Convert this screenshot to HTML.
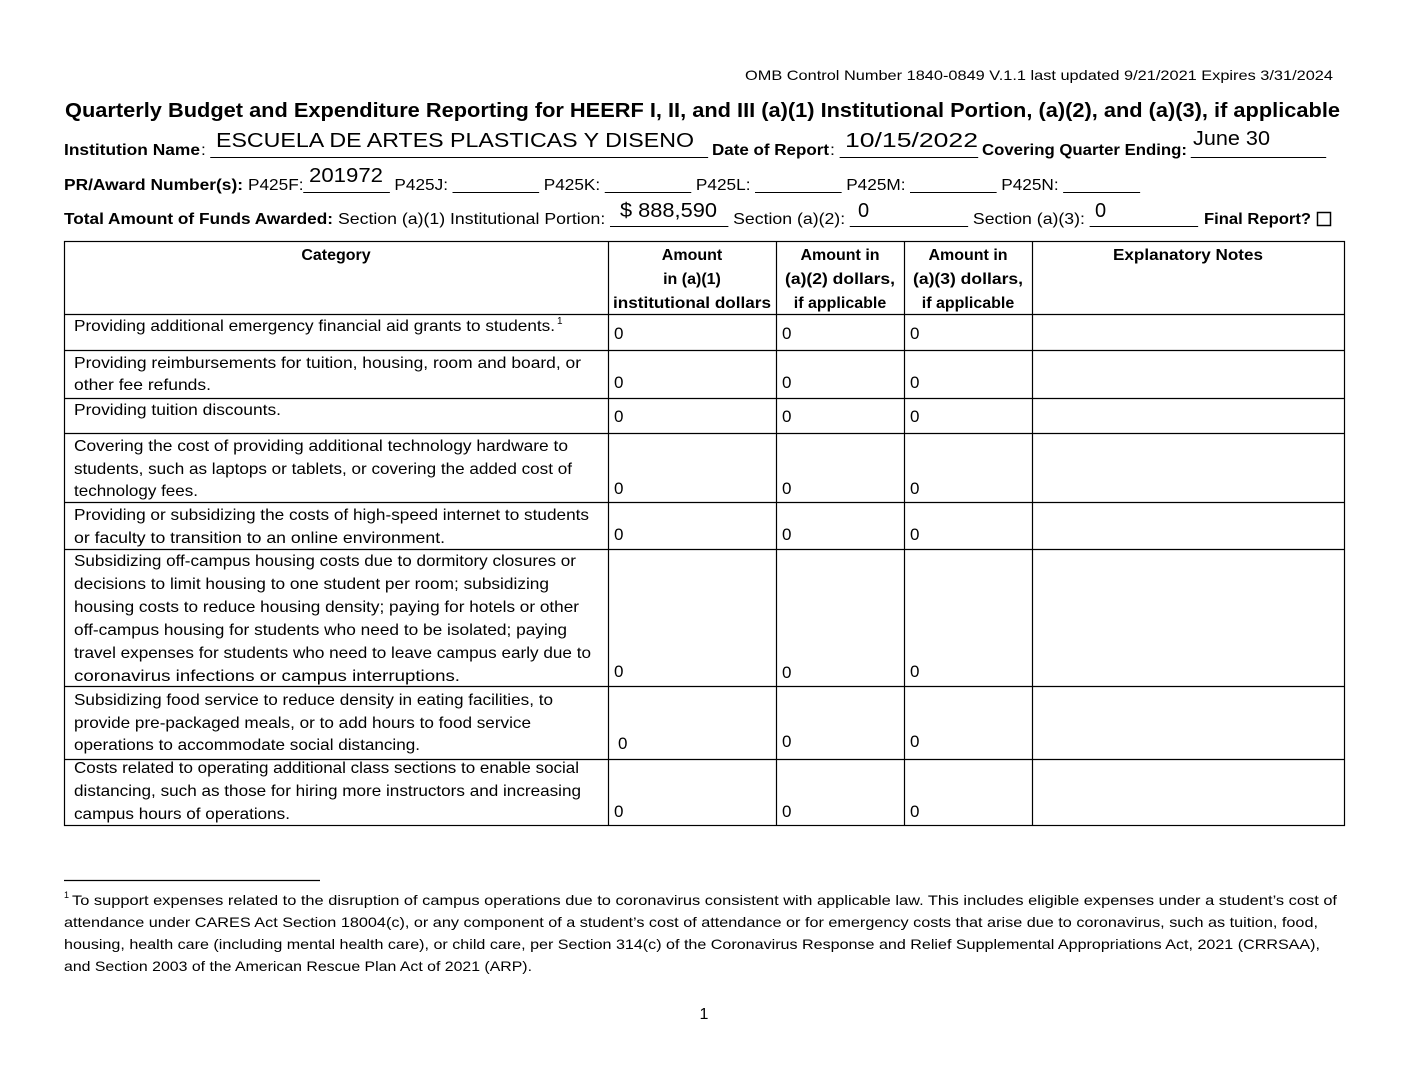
<!DOCTYPE html>
<html><head><meta charset="utf-8"><style>
html,body{margin:0;padding:0;background:#fff;}
svg{display:block;}
text{font-family:"Liberation Sans",sans-serif;fill:#000;}
.b{font-weight:bold;}
</style></head><body>
<svg width="1408" height="1088" viewBox="0 0 1408 1088" xmlns="http://www.w3.org/2000/svg">
<text x="745" y="80" font-size="14" textLength="588" lengthAdjust="spacingAndGlyphs">OMB Control Number 1840-0849 V.1.1 last updated 9/21/2021 Expires 3/31/2024</text>
<text x="65" y="117" font-size="20.5" class="b" textLength="1275" lengthAdjust="spacingAndGlyphs">Quarterly Budget and Expenditure Reporting for HEERF I, II, and III (a)(1) Institutional Portion, (a)(2), and (a)(3), if applicable</text>

<text x="64" y="155" font-size="16" class="b" textLength="136" lengthAdjust="spacingAndGlyphs">Institution Name</text>
<text x="201" y="155" font-size="16" textLength="507" lengthAdjust="spacingAndGlyphs">: ____________________________________________________</text>
<text x="712" y="155" font-size="16" class="b" textLength="117" lengthAdjust="spacingAndGlyphs">Date of Report</text>
<text x="830" y="155" font-size="16" textLength="148" lengthAdjust="spacingAndGlyphs">: ______________</text>
<text x="982" y="155" font-size="16" class="b" textLength="205" lengthAdjust="spacingAndGlyphs">Covering Quarter Ending:</text>
<text x="1191" y="155" font-size="16" textLength="135" lengthAdjust="spacingAndGlyphs">______________</text>
<text x="216" y="147" font-size="20" textLength="478" lengthAdjust="spacingAndGlyphs">ESCUELA DE ARTES PLASTICAS Y DISENO</text>
<text x="845" y="147" font-size="20" textLength="133" lengthAdjust="spacingAndGlyphs">10/15/2022</text>
<text x="1193" y="145" font-size="20" textLength="77" lengthAdjust="spacingAndGlyphs">June 30</text>

<text x="64" y="190" font-size="16" class="b" textLength="179" lengthAdjust="spacingAndGlyphs">PR/Award Number(s):</text>
<text x="248" y="190" font-size="16" textLength="892" lengthAdjust="spacingAndGlyphs">P425F:_________ P425J: _________ P425K: _________ P425L: _________ P425M: _________ P425N: ________</text>
<text x="309" y="182" font-size="20" textLength="74" lengthAdjust="spacingAndGlyphs">201972</text>

<text x="64" y="224" font-size="16" class="b" textLength="269" lengthAdjust="spacingAndGlyphs">Total Amount of Funds Awarded:</text>
<text x="338" y="224" font-size="16" textLength="860" lengthAdjust="spacingAndGlyphs">Section (a)(1) Institutional Portion: ____________ Section (a)(2): ____________ Section (a)(3): ___________</text>
<text x="1204" y="224" font-size="16" class="b" textLength="107" lengthAdjust="spacingAndGlyphs">Final Report?</text>
<rect x="1317.5" y="212.5" width="13" height="13" fill="none" stroke="#000" stroke-width="1.5"/>
<text x="620" y="217" font-size="20" textLength="97" lengthAdjust="spacingAndGlyphs">$ 888,590</text>
<text x="858" y="217" font-size="20">0</text>
<text x="1095" y="217" font-size="20">0</text>

<g stroke="#000" stroke-width="1.2" fill="none">
<rect x="64.5" y="241.5" width="1280" height="584"/>
<line x1="608.5" y1="241" x2="608.5" y2="826"/>
<line x1="776.5" y1="241" x2="776.5" y2="826"/>
<line x1="904.5" y1="241" x2="904.5" y2="826"/>
<line x1="1032.5" y1="241" x2="1032.5" y2="826"/>
<line x1="64" y1="314.5" x2="1345" y2="314.5"/>
<line x1="64" y1="350.5" x2="1345" y2="350.5"/>
<line x1="64" y1="398.5" x2="1345" y2="398.5"/>
<line x1="64" y1="433.5" x2="1345" y2="433.5"/>
<line x1="64" y1="502.5" x2="1345" y2="502.5"/>
<line x1="64" y1="549.5" x2="1345" y2="549.5"/>
<line x1="64" y1="686.5" x2="1345" y2="686.5"/>
<line x1="64" y1="759.5" x2="1345" y2="759.5"/>
<line x1="64" y1="880.5" x2="320" y2="880.5"/>
</g>

<g font-size="16" class="b" text-anchor="middle">
<text x="336" y="260">Category</text>
<text x="692" y="260">Amount</text>
<text x="692" y="284">in (a)(1)</text>
<text x="692" y="308" textLength="158" lengthAdjust="spacingAndGlyphs">institutional dollars</text>
<text x="840" y="260">Amount in</text>
<text x="840" y="284" textLength="110" lengthAdjust="spacingAndGlyphs">(a)(2) dollars,</text>
<text x="840" y="308">if applicable</text>
<text x="968" y="260">Amount in</text>
<text x="968" y="284" textLength="110" lengthAdjust="spacingAndGlyphs">(a)(3) dollars,</text>
<text x="968" y="308">if applicable</text>
<text x="1188" y="260" textLength="150" lengthAdjust="spacingAndGlyphs">Explanatory Notes</text>
</g>

<g font-size="16">
<text x="74" y="331" textLength="481" lengthAdjust="spacingAndGlyphs">Providing additional emergency financial aid grants to students.</text>
<text x="557" y="324" font-size="10">1</text>
<text x="74" y="368" textLength="507" lengthAdjust="spacingAndGlyphs">Providing reimbursements for tuition, housing, room and board, or</text>
<text x="74" y="390" textLength="137" lengthAdjust="spacingAndGlyphs">other fee refunds.</text>
<text x="74" y="415" textLength="207" lengthAdjust="spacingAndGlyphs">Providing tuition discounts.</text>
<text x="74" y="451" textLength="494" lengthAdjust="spacingAndGlyphs">Covering the cost of providing additional technology hardware to</text>
<text x="74" y="474" textLength="498" lengthAdjust="spacingAndGlyphs">students, such as laptops or tablets, or covering the added cost of</text>
<text x="74" y="496" textLength="124" lengthAdjust="spacingAndGlyphs">technology fees.</text>
<text x="74" y="520" textLength="515" lengthAdjust="spacingAndGlyphs">Providing or subsidizing the costs of high-speed internet to students</text>
<text x="74" y="543" textLength="371" lengthAdjust="spacingAndGlyphs">or faculty to transition to an online environment.</text>
<text x="74" y="566" textLength="502" lengthAdjust="spacingAndGlyphs">Subsidizing off-campus housing costs due to dormitory closures or</text>
<text x="74" y="589" textLength="475" lengthAdjust="spacingAndGlyphs">decisions to limit housing to one student per room; subsidizing</text>
<text x="74" y="612" textLength="505" lengthAdjust="spacingAndGlyphs">housing costs to reduce housing density; paying for hotels or other</text>
<text x="74" y="635" textLength="493" lengthAdjust="spacingAndGlyphs">off-campus housing for students who need to be isolated; paying</text>
<text x="74" y="658" textLength="517" lengthAdjust="spacingAndGlyphs">travel expenses for students who need to leave campus early due to</text>
<text x="74" y="681" textLength="386" lengthAdjust="spacingAndGlyphs">coronavirus infections or campus interruptions.</text>
<text x="74" y="705" textLength="479" lengthAdjust="spacingAndGlyphs">Subsidizing food service to reduce density in eating facilities, to</text>
<text x="74" y="728" textLength="457" lengthAdjust="spacingAndGlyphs">provide pre-packaged meals, or to add hours to food service</text>
<text x="74" y="750" textLength="346" lengthAdjust="spacingAndGlyphs">operations to accommodate social distancing.</text>
<text x="74" y="773" textLength="505" lengthAdjust="spacingAndGlyphs">Costs related to operating additional class sections to enable social</text>
<text x="74" y="796" textLength="507" lengthAdjust="spacingAndGlyphs">distancing, such as those for hiring more instructors and increasing</text>
<text x="74" y="819" textLength="216" lengthAdjust="spacingAndGlyphs">campus hours of operations.</text>
</g>

<g font-size="17">
<text x="614" y="339">0</text><text x="782" y="339">0</text><text x="910" y="339">0</text>
<text x="614" y="388">0</text><text x="782" y="388">0</text><text x="910" y="388">0</text>
<text x="614" y="422">0</text><text x="782" y="422">0</text><text x="910" y="422">0</text>
<text x="614" y="494">0</text><text x="782" y="494">0</text><text x="910" y="494">0</text>
<text x="614" y="540">0</text><text x="782" y="540">0</text><text x="910" y="540">0</text>
<text x="614" y="677">0</text><text x="782" y="678">0</text><text x="910" y="677">0</text>
<text x="618" y="749">0</text><text x="782" y="747">0</text><text x="910" y="747">0</text>
<text x="614" y="817">0</text><text x="782" y="817">0</text><text x="910" y="817">0</text>
</g>

<g font-size="14">
<text x="64" y="898" font-size="9">1</text>
<text x="72" y="905" textLength="1265" lengthAdjust="spacingAndGlyphs">To support expenses related to the disruption of campus operations due to coronavirus consistent with applicable law. This includes eligible expenses under a student’s cost of</text>
<text x="64" y="927" textLength="1254" lengthAdjust="spacingAndGlyphs">attendance under CARES Act Section 18004(c), or any component of a student’s cost of attendance or for emergency costs that arise due to coronavirus, such as tuition, food,</text>
<text x="64" y="949" textLength="1256" lengthAdjust="spacingAndGlyphs">housing, health care (including mental health care), or child care, per Section 314(c) of the Coronavirus Response and Relief Supplemental Appropriations Act, 2021 (CRRSAA),</text>
<text x="64" y="971" textLength="468" lengthAdjust="spacingAndGlyphs">and Section 2003 of the American Rescue Plan Act of 2021 (ARP).</text>
<text x="704" y="1019" font-size="16" text-anchor="middle">1</text>
</g>
</svg>
</body></html>
